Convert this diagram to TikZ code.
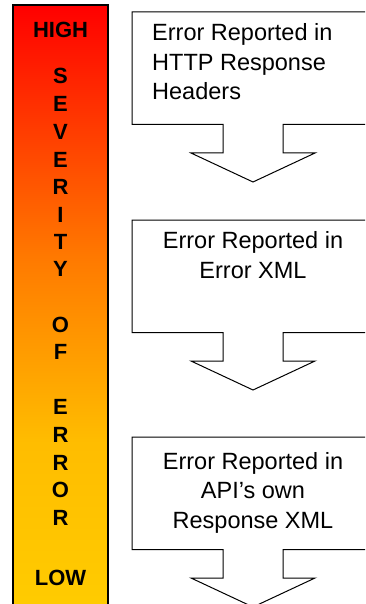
\documentclass[tikz,border=0pt]{standalone}
\usepackage{fontspec}
\setmainfont{Liberation Sans}
\usetikzlibrary{calc}
\definecolor[named]{SevHigh}{rgb}{1,0,0}
\definecolor[named]{SevMid}{rgb}{1,0.48,0}
\definecolor[named]{SevWarm}{rgb}{1,0.74,0}
\definecolor[named]{SevLow}{rgb}{1,0.8,0}
\pgfdeclareverticalshading{severity}{100bp}{color(0bp)=(SevLow); color(25bp)=(SevLow);
  color(39bp)=(SevWarm); color(54bp)=(SevMid); color(75bp)=(SevHigh); color(100bp)=(SevHigh)}
\tikzset{errbox/.pic={
  % callout outline, origin at the top edge on the arrow axis
  \draw[line width=1pt,fill=white] (-121,0) -- (121,0) -- (121,112.5) -- (30,112.5)
    -- (30,141) -- (62,141) -- (0,170) -- (-62,141) -- (-30,141) -- (-30,112.5)
    -- (-121,112.5) -- cycle;
}}
\tikzset{boxtext/.style={font=\fontsize{23.5}{29.5}\selectfont,inner sep=0pt,align=center},
  sevtext/.style={font=\fontsize{22}{26}\selectfont\bfseries,inner sep=0pt}}

\begin{document}
\begin{tikzpicture}[x=1pt,y=-1pt]
  \useasboundingbox (0,0) rectangle (365,604);
  \clip (0,0) rectangle (365,604);
  % Severity bar
  \shade[shading=severity,draw,line width=1.3pt] (13,5) rectangle (108,612);
  \foreach \w/\y [count=\i] in {HIGH/30,S/76,E/104,V/132,E/160,R/187,I/215,T/242,Y/269,
      O/325,F/352,E/407,R/435,R/463,O/490,R/518,LOW/578}
    \node[sevtext] (sev\i) at (60.5,\y) {\w};
  % Error boxes
  \pic at (253,12) {errbox};
  \pic at (253,220) {errbox};
  \pic at (253,437) {errbox};
  \node[boxtext,align=left,anchor=west] (hdr) at (152,62) {Error Reported in\\HTTP Response\\Headers};
  \node[boxtext] (xml) at (253,255) {Error Reported in\\Error XML};
  \node[boxtext] (api) at (253,492.5) {Error Reported in\\API’s own\\Response XML};
\end{tikzpicture}
\end{document}
